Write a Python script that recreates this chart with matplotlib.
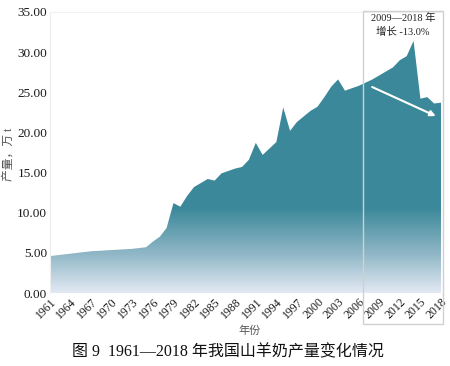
import numpy as np
import matplotlib
matplotlib.use("Agg")
import matplotlib.pyplot as plt
from matplotlib.colors import LinearSegmentedColormap
from matplotlib.patches import Rectangle, Polygon

plt.rcParams['font.family'] = ['Liberation Serif', 'Noto Sans CJK SC', 'DejaVu Sans']

years = list(range(1961, 2019))
production = [4.6, 4.7, 4.8, 4.9, 5.0, 5.1, 5.2, 5.25, 5.3, 5.35,
              5.4, 5.45, 5.5, 5.6, 5.7, 6.4, 7.0, 8.1, 11.2, 10.75,
              12.1, 13.2, 13.7, 14.2, 14.0, 14.9, 15.2, 15.5, 15.7, 16.6,
              18.7, 17.2, 18.0, 18.8, 23.1, 20.2, 21.3, 22.0, 22.7, 23.2,
              24.4, 25.7, 26.6, 25.2, 25.5, 25.8, 26.2, 26.6, 27.1, 27.6,
              28.1, 29.0, 29.5, 31.4, 24.2, 24.4, 23.6, 23.7]
tick_years = list(range(1961, 2019, 3))
yticks = [0, 5, 10, 15, 20, 25, 30, 35]
annot_text = "2009—2018 年\n增长 -13.0%"
caption = "图 9  1961—2018 年我国山羊奶产量变化情况"

fig = plt.figure(figsize=(4.5, 3.66), dpi=100)
ax = fig.add_axes([50/450, 1-293/366, (441-50)/450, (293-12)/366])

x = np.array(years, dtype=float)
y = np.array(production)

cmap = LinearSegmentedColormap.from_list(
    'g', [(0.0, '#e2e9f3'), (0.14, '#8fb6c6'), (0.30, '#3c899b'), (1.0, '#3a889a')])
grad = np.linspace(0, 1, 256).reshape(-1, 1)
im = ax.imshow(grad, extent=[x[0], x[-1], 0, 35], origin='lower', aspect='auto',
               cmap=cmap, zorder=1)
verts = np.vstack([[x[0], 0], np.column_stack([x, y]), [x[-1], 0]])
poly = Polygon(verts, closed=True, facecolor='none', edgecolor='none', transform=ax.transData)
ax.add_patch(poly)
im.set_clip_path(poly)

ax.set_xlim(1961, 2018)
ax.set_ylim(0, 35)
ax.set_yticks(yticks)
ax.set_yticklabels([f"{v:.2f}" for v in yticks], fontsize=9.5, color='#1a1a1a')
ax.set_xticks(tick_years)
ax.set_xticklabels([str(t) for t in tick_years], rotation=45, ha='right',
                   rotation_mode='anchor', fontsize=8.5, color='#1a1a1a')
ax.tick_params(axis='both', length=0, pad=2)
for s in ['right', 'bottom']:
    ax.spines[s].set_visible(False)
ax.spines['left'].set_color('#eeeeee')
ax.spines['top'].set_color('#f2f2f2')

# arrow
ax.annotate('', xy=(2017.6, 21.9), xytext=(2007.6, 25.8),
            arrowprops=dict(arrowstyle='-|>', color='white', lw=1.5,
                            mutation_scale=8), zorder=5)

# highlight box
fig.patches.append(Rectangle((363/450, 1-324/366), (443-363)/450, (324-11)/366,
                             transform=fig.transFigure, fill=False,
                             edgecolor='#d0d0d0', lw=1.0, zorder=10))
fig.text(403/450, 1-25/366, annot_text, ha='center', va='center', fontsize=7.5,
         color='#222222', linespacing=1.5)

fig.text(9/450, 1-154/366, "产量，万 t", rotation=90, ha='center', va='center',
         fontsize=8.5, color='#555555')
fig.text(250/450, 1-331/366, "年份", ha='center', va='center', fontsize=8,
         color='#555555')
fig.text(228/450, 1-352/366, caption, ha='center', va='center', fontsize=11.5,
         color='#111111', fontweight='medium')

fig.savefig('out.png', dpi=100)
